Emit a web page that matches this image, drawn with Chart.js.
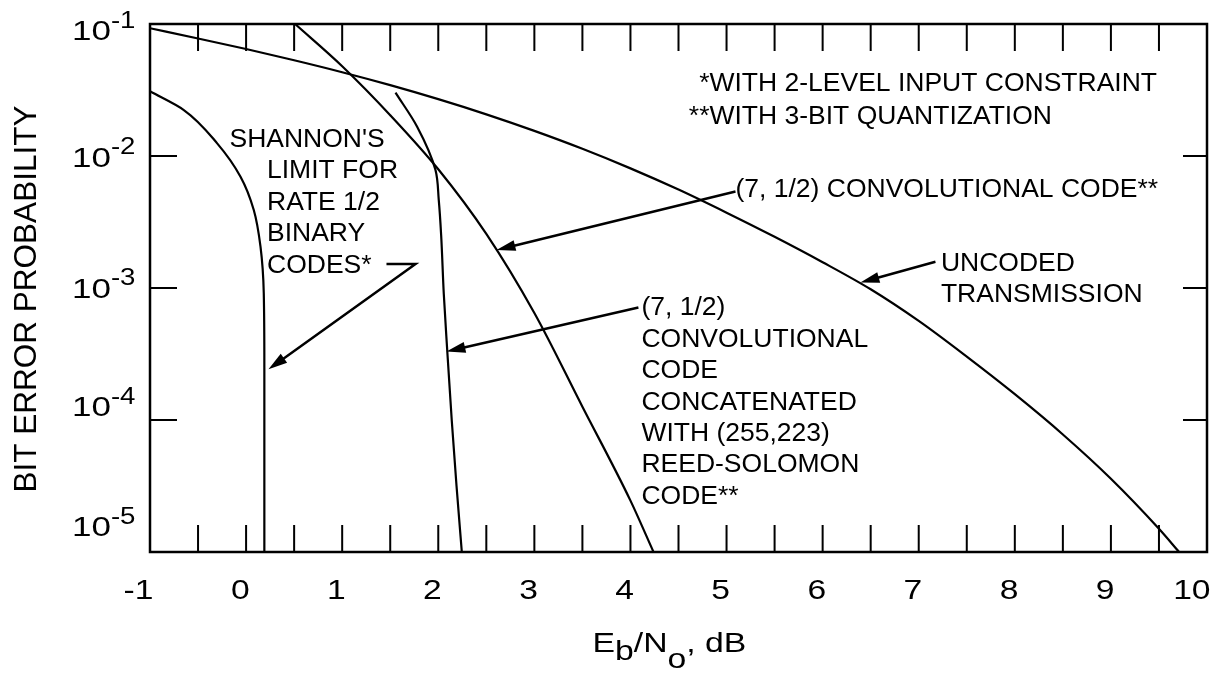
<!DOCTYPE html>
<html><head><meta charset="utf-8">
<script src="https://cdn.jsdelivr.net/npm/chart.js@4.4.1/dist/chart.umd.min.js"></script>
<style>html,body{margin:0;padding:0;background:#fff;}canvas{display:block;}</style>
</head><body>
<canvas id="c" width="1215" height="676"></canvas>
<script>
// ---- data ----
const xTickLabels = [-1, 0, 1, 2, 3, 4, 5, 6, 7, 8, 9, 10];
const yTickExponents = [-1, -2, -3, -4, -5];

const uncodedEbNo = [-1, -0.5, 0, 0.5, 1, 1.5, 2, 2.5, 3, 3.5, 4, 4.5, 5, 5.5, 6, 6.5, 7, 7.5, 8, 8.5, 9, 9.5, 9.71];
const uncodedBer  = [0.0929, 0.0777, 0.0646, 0.0531, 0.0431, 0.0344, 0.02695, 0.02068, 0.0155, 0.01134, 0.00806, 0.005566,
                     0.00372, 0.002443, 0.001568, 0.000978, 0.000563, 0.000302, 0.0001568, 7.77e-5, 3.59e-5, 1.50e-5, 1.0e-5];

const convEbNo = [0.51, 1.0, 1.5, 2.0, 2.5, 3.0, 3.5, 4.0, 4.24];
const convBer  = [0.1, 0.0479, 0.0204, 0.00794, 0.00257, 0.000646, 0.000126, 2.45e-5, 1.0e-5];

const concatEbNo = [1.555, 1.78, 1.971, 2.005, 2.03, 2.057, 2.093, 2.14, 2.19, 2.245];
const concatBer  = [0.0302, 0.01667, 0.00783, 0.00465, 0.00251, 0.000912, 0.000339, 1.0e-4, 3.16e-5, 1.0e-5];

const shannonEbNo = [-1.0, -0.648, -0.301, -0.058, 0.08, 0.15, 0.184, 0.19, 0.19];
const shannonBer  = [0.0309, 0.0223, 0.01247, 0.00697, 0.0039, 0.002056, 0.000912, 0.000251, 1.0e-5];

const noteLines = [['*', 'WITH 2-LEVEL INPUT CONSTRAINT'], ['**', 'WITH 3-BIT QUANTIZATION']];
const shannonLines = ["SHANNON'S", 'LIMIT FOR', 'RATE 1/2', 'BINARY', 'CODES*'];
const concatLines = ['(7, 1/2)', 'CONVOLUTIONAL', 'CODE', 'CONCATENATED', 'WITH (255,223)', 'REED-SOLOMON', 'CODE**'];
const convLabel = '(7, 1/2) CONVOLUTIONAL CODE**';
const uncodedLines = ['UNCODED', 'TRANSMISSION'];
const yTitle = 'BIT ERROR PROBABILITY';

// ---- annotation anchors (data coordinates: dB, probability) ----
const ann = {
  notes:   {x: 4.822, y: 0.03133, step: 33},
  shannon: {x0: -0.173, x: 0.2175, y: 0.0117, step: 31.4},
  concat:  {x: 4.114, y: 0.000619, step: 31.4},
  conv:    {x: 5.093, y: 0.00492},
  uncoded: {x: 7.231, y: 0.001349, step: 31.2},
  shannonArrow: [[1.461, 0.00152], [1.763, 0.00152], [0.233, 0.000242]],
  concatArrow:  [[4.083, 0.000711], [2.085, 0.00033]],
  convArrow:    [[5.093, 0.00538], [2.606, 0.00194]],
  uncodedArrow: [[7.174, 0.00158], [6.393, 0.0011]]
};

const FONT = '"Liberation Sans", Arial, Helvetica, sans-serif';

function pts(xs, ys) { return xs.map((x, i) => ({x: x, y: ys[i]})); }
function ds(label, xs, ys, idx) {
  return {label, data: pts(xs, ys), showLine: true, borderColor: '#000', backgroundColor: '#000',
    borderWidth: 2.2, pointRadius: 0, pointHoverRadius: 0, cubicInterpolationMode: 'monotone',
    indexAxis: idx, fill: false};
}

function sText(ctx, text, x, y, size, sx, align) {
  ctx.save();
  ctx.font = size + 'px ' + FONT;
  ctx.textBaseline = 'alphabetic';
  ctx.textAlign = 'left';
  const w = ctx.measureText(text).width * sx;
  const x0 = align === 'right' ? x - w : (align === 'center' ? x - w / 2 : x);
  ctx.translate(x0, y);
  ctx.scale(sx, 1);
  ctx.fillStyle = '#000';
  ctx.fillText(text, 0, 0);
  ctx.restore();
  return x0 + w;
}

function arrow(ctx, p) {
  const tip = p[p.length - 1], prev = p[p.length - 2];
  const ang = Math.atan2(tip[1] - prev[1], tip[0] - prev[0]);
  const L = 19, W = 5.5;
  const bx = tip[0] - L * Math.cos(ang), by = tip[1] - L * Math.sin(ang);
  ctx.save();
  ctx.strokeStyle = '#000'; ctx.fillStyle = '#000'; ctx.lineWidth = 2.5; ctx.lineJoin = 'miter';
  ctx.beginPath();
  ctx.moveTo(p[0][0], p[0][1]);
  for (let i = 1; i < p.length - 1; i++) ctx.lineTo(p[i][0], p[i][1]);
  ctx.lineTo(bx + 2 * Math.cos(ang), by + 2 * Math.sin(ang));
  ctx.stroke();
  ctx.beginPath();
  ctx.moveTo(tip[0], tip[1]);
  ctx.lineTo(bx - W * Math.sin(ang), by + W * Math.cos(ang));
  ctx.lineTo(bx + W * Math.sin(ang), by - W * Math.cos(ang));
  ctx.closePath();
  ctx.fill();
  ctx.restore();
}

const decor = {
  id: 'decor',
  afterDraw(chart) {
    const ctx = chart.ctx, a = chart.chartArea;
    const xs = chart.scales.x, ys = chart.scales.y;
    const X = v => xs.getPixelForValue(v), Y = v => ys.getPixelForValue(v);
    const P = q => [X(q[0]), Y(q[1])];
    ctx.save();
    // frame
    ctx.strokeStyle = '#000';
    ctx.lineWidth = 2.5;
    ctx.strokeRect(a.left, a.top, a.right - a.left, a.bottom - a.top);
    // inner tick marks
    ctx.lineWidth = 2;
    ctx.beginPath();
    xs.ticks.forEach(t => {
      if (t.value <= xs.min + 1e-9 || t.value >= xs.max - 1e-9) return;
      const px = X(t.value);
      ctx.moveTo(px, a.top); ctx.lineTo(px, a.top + 27);
      ctx.moveTo(px, a.bottom); ctx.lineTo(px, a.bottom - 27);
    });
    yTickExponents.forEach(e => {
      const v = Math.pow(10, e);
      if (v <= ys.min * 1.0001 || v >= ys.max * 0.9999) return;
      const py = Y(v);
      ctx.moveTo(a.left, py); ctx.lineTo(a.left + 27, py);
      ctx.moveTo(a.right, py); ctx.lineTo(a.right - 24, py);
    });
    ctx.stroke();

    // x tick labels
    xTickLabels.forEach(v => {
      sText(ctx, String(v), X(v) + 3.5, a.bottom + 47, 28, 1.2, 'right');
    });
    // y tick labels 10^n
    const yNudge = [6, 0.7, -0.5, -14, -26];
    yTickExponents.forEach((e, i) => {
      const base = Y(Math.pow(10, e)) + yNudge[i] + 10;
      const end = sText(ctx, '10', 72, base, 28, 1.25, 'left');
      sText(ctx, '-' + String(-e), end, base - 12.5, 23, 1.2, 'left');
    });
    // axis titles
    ctx.save();
    ctx.translate(36, (a.top + a.bottom) / 2 + 11);
    ctx.rotate(-Math.PI / 2);
    ctx.font = '31.5px ' + FONT;
    ctx.fillStyle = '#000';
    ctx.textAlign = 'center';
    ctx.textBaseline = 'alphabetic';
    ctx.fillText(yTitle, 0, 0);
    ctx.restore();
    let tx = 592.5;
    const tb = a.bottom + 99.7;
    tx = sText(ctx, 'E', tx, tb, 27, 1.25, 'left');
    tx = sText(ctx, 'b', tx, tb + 8.3, 27, 1.25, 'left');
    tx = sText(ctx, '/N', tx, tb, 27, 1.25, 'left');
    tx = sText(ctx, 'o', tx, tb + 16.3, 27, 1.25, 'left');
    sText(ctx, ', dB', tx, tb, 27, 1.25, 'left');

    // annotations
    const fs = 26.5;
    noteLines.forEach((ln, i) => {
      const x = X(ann.notes.x), y = Y(ann.notes.y) + i * ann.notes.step;
      sText(ctx, ln[0], x, y, fs, 1, 'right');
      sText(ctx, ln[1], x, y, fs, 1, 'left');
    });
    shannonLines.forEach((t, i) => {
      const x = X(i === 0 ? ann.shannon.x0 : ann.shannon.x);
      sText(ctx, t, x, Y(ann.shannon.y) + i * ann.shannon.step, fs, 1, 'left');
    });
    concatLines.forEach((t, i) => {
      sText(ctx, t, X(ann.concat.x), Y(ann.concat.y) + i * ann.concat.step, fs, 1, 'left');
    });
    sText(ctx, convLabel, X(ann.conv.x), Y(ann.conv.y), fs, 1, 'left');
    uncodedLines.forEach((t, i) => {
      sText(ctx, t, X(ann.uncoded.x), Y(ann.uncoded.y) + i * ann.uncoded.step, fs, 1, 'left');
    });
    arrow(ctx, ann.shannonArrow.map(P));
    arrow(ctx, ann.concatArrow.map(P));
    arrow(ctx, ann.convArrow.map(P));
    arrow(ctx, ann.uncodedArrow.map(P));
    ctx.restore();
  }
};

new Chart(document.getElementById('c'), {
  type: 'scatter',
  data: {
    datasets: [
      ds('Uncoded transmission', uncodedEbNo, uncodedBer, 'x'),
      ds('(7, 1/2) convolutional code', convEbNo, convBer, 'x'),
      ds('(7, 1/2) concatenated with (255,223) Reed-Solomon', concatEbNo, concatBer, 'y'),
      ds("Shannon's limit for rate 1/2 binary codes", shannonEbNo, shannonBer, 'y')
    ]
  },
  options: {
    responsive: false,
    animation: false,
    devicePixelRatio: 1,
    layout: {padding: {top: 24, right: 8, left: 0, bottom: 0}},
    plugins: {legend: {display: false}, tooltip: {enabled: false}, title: {display: false}},
    scales: {
      x: {type: 'linear', min: -1, max: 10,
          ticks: {display: false, stepSize: 0.5},
          grid: {display: false}, border: {display: false},
          afterFit: s => { s.height = 124; }},
      y: {type: 'logarithmic', min: 1e-5, max: 1e-1,
          ticks: {display: false},
          grid: {display: false}, border: {display: false},
          afterFit: s => { s.width = 150; }}
    }
  },
  plugins: [decor]
});
</script>
</body></html>
